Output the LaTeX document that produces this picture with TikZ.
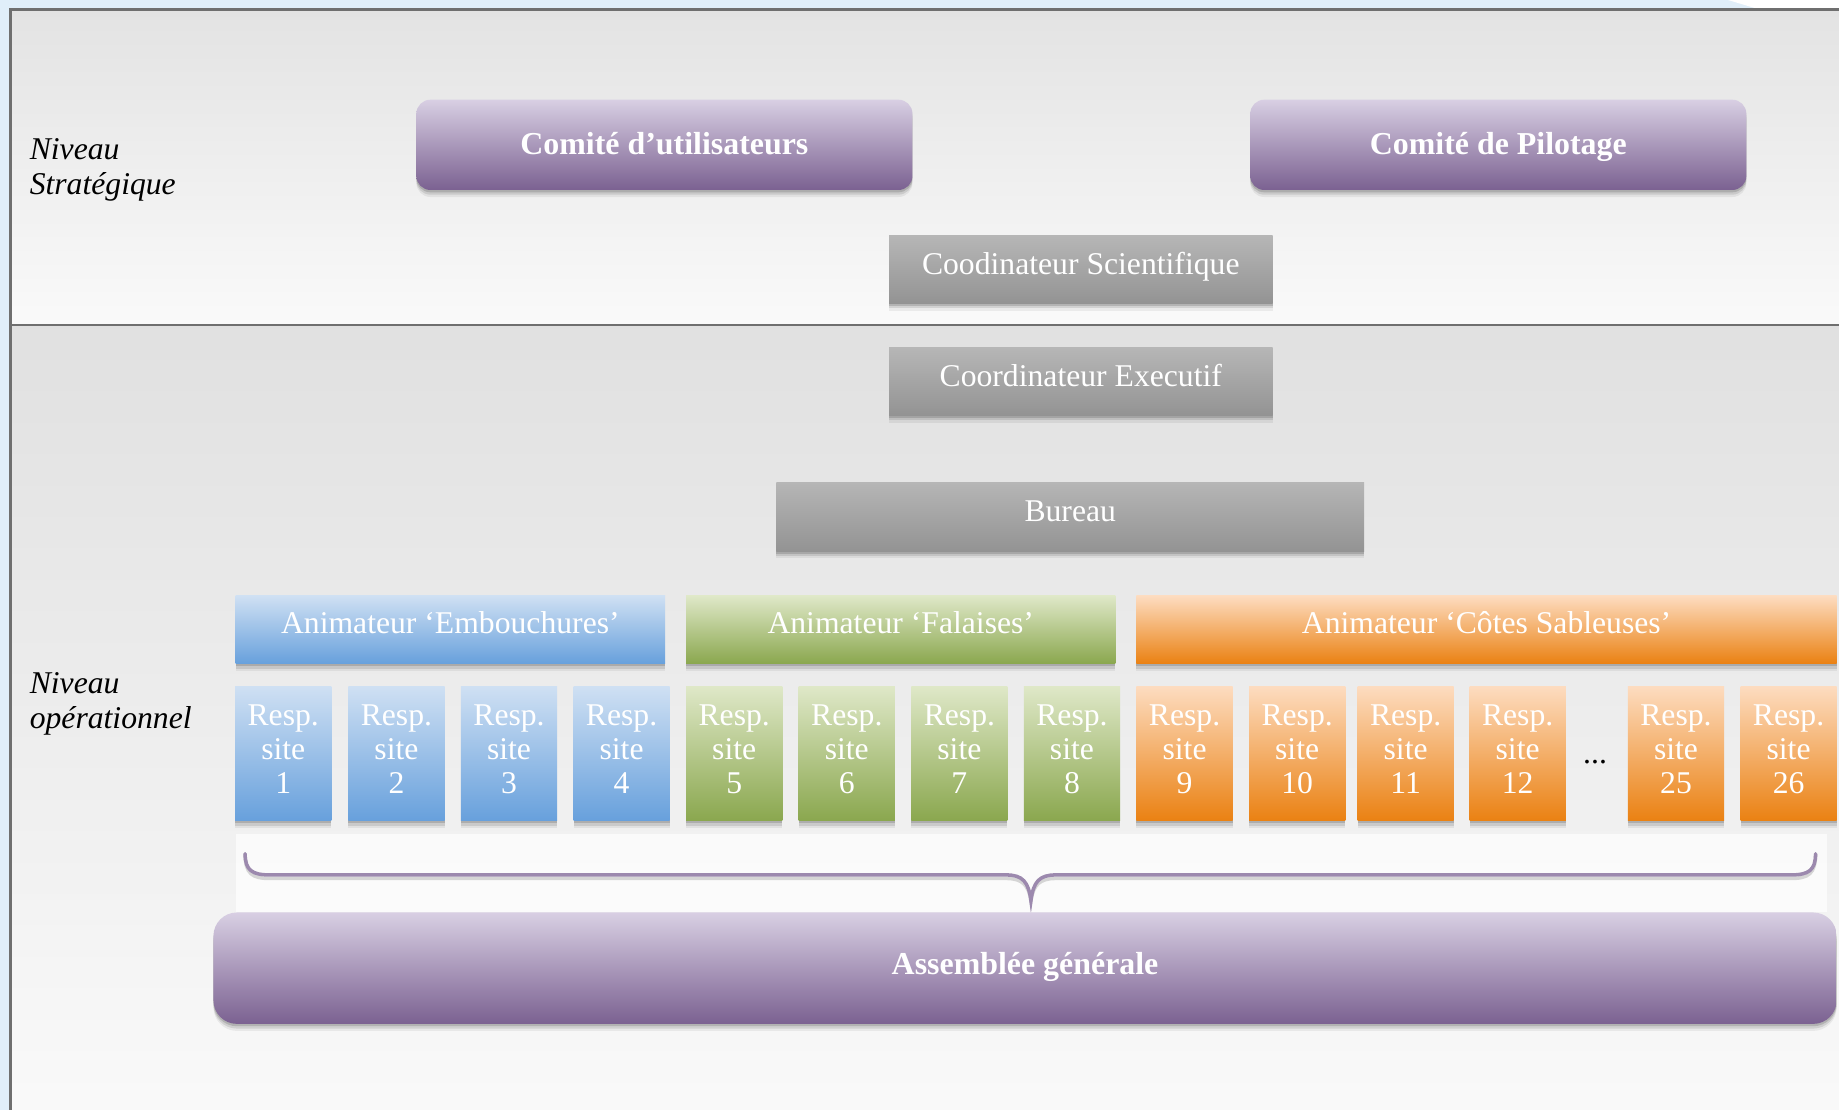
\documentclass[tikz,border=0pt]{standalone}
\usepackage{fontspec}
\setmainfont{Liberation Serif}
\usetikzlibrary{shadows}
\definecolor{bluebg}{HTML}{E0EEF9}
\definecolor{frameline}{HTML}{6F6F6F}
\definecolor{purpTop}{HTML}{D8CFE3}
\definecolor{purpBot}{HTML}{7B6191}
\definecolor{grayTop}{HTML}{B6B6B6}
\definecolor{grayBot}{HTML}{939393}
\definecolor{blueTop}{HTML}{CFE0F3}
\definecolor{blueBot}{HTML}{67A0DC}
\definecolor{greenTop}{HTML}{DFE8C8}
\definecolor{greenBot}{HTML}{8AA74E}
\definecolor{orangeTop}{HTML}{FDDCC0}
\definecolor{orangeBot}{HTML}{EA8112}
\definecolor{braceCol}{HTML}{9C89AE}
\tikzset{
  boxbase/.style={draw=none, inner sep=0pt, text=white, align=center,
    drop shadow={shadow xshift=0pt, shadow yshift=-3pt, opacity=0.06, fill=black},
    drop shadow={shadow xshift=0pt, shadow yshift=-2pt, opacity=0.10, fill=black},
    drop shadow={shadow xshift=0pt, shadow yshift=-1pt, opacity=0.14, fill=black}},
  purplebox/.style={boxbase, top color=purpTop, bottom color=purpBot,
    rounded corners=6pt, text height=9pt, text depth=0.5pt,
    font=\fontsize{13.6}{15}\selectfont\bfseries},
  graybox/.style={boxbase, top color=grayTop, bottom color=grayBot,
    text height=9pt, text depth=5pt, font=\fontsize{13.5}{15}\selectfont},
  animbox/.style={boxbase, minimum height=29pt, text height=9pt, text depth=5.5pt,
    font=\fontsize{13.5}{15}\selectfont},
  respbox/.style={boxbase, minimum width=41pt, minimum height=57.5pt, text depth=4pt,
    font=\fontsize{13.5}{14.5}\selectfont},
  blueb/.style={top color=blueTop, bottom color=blueBot},
  greenb/.style={top color=greenTop, bottom color=greenBot},
  orangeb/.style={top color=orangeTop, bottom color=orangeBot},
  levellabel/.style={anchor=west, align=left, inner sep=0pt,
    font=\fontsize{13.5}{15}\selectfont\itshape}
}
\begin{document}
\begin{tikzpicture}[x=0.5pt,y=-0.5pt]
\useasboundingbox (0,0) rectangle (1568,946);
\begin{scope}
  \clip (0,0) rectangle (1568,946);
  \fill[bluebg] (0,0) rectangle (1568,946);
  \fill[white] (1470,-1) -- (1569,-1) -- (1569,8) -- (1500,8) -- cycle;
  \shade[top color=gray!22, bottom color=gray!4] (9,8) rectangle (1580,277);
  \shade[top color=gray!24, bottom color=gray!4] (9,277) rectangle (1580,960);
  \draw[frameline, line width=1pt] (1580,8) -- (9,8) -- (9,960);
  \draw[frameline, line width=1pt] (9,277) -- (1580,277);
\end{scope}

% level labels
\node[levellabel] (lvlS) at (25,145) {Niveau\\Stratégique};
\node[levellabel] (lvlO) at (25,600) {Niveau\\opérationnel};

% strategic
\node[purplebox, minimum width=211.5pt, minimum height=38.5pt] (cu) at (566.5,123.5) {Comité d’utilisateurs};
\node[purplebox, minimum width=211.5pt, minimum height=38.5pt] (cp) at (1277.5,123.5) {Comité de Pilotage};
\node[graybox, minimum width=163.5pt, minimum height=29pt] (cs) at (921.5,230) {Coodinateur Scientifique};
\node[graybox, minimum width=163.5pt, minimum height=29pt] (ce) at (921.5,325.5) {Coordinateur Executif};
\node[graybox, minimum width=250.5pt, minimum height=29.5pt] (bu) at (912.5,440.5) {Bureau};

% animators
\node[animbox, blueb, minimum width=183pt] (aE) at (384,537) {Animateur ‘Embouchures’};
\node[animbox, greenb, minimum width=183pt] (aF) at (768,537) {Animateur ‘Falaises’};
\node[animbox, orangeb, minimum width=298.5pt] (aC) at (1267.5,537) {Animateur ‘Côtes Sableuses’};

% site managers
\foreach \n/\x/\c in {1/241.5/blueb, 2/338/blueb, 3/434/blueb, 4/530/blueb,
  5/626/greenb, 6/722/greenb, 7/818/greenb, 8/914/greenb,
  9/1010/orangeb, 10/1106/orangeb, 11/1198.5/orangeb, 12/1294/orangeb,
  25/1429/orangeb, 26/1525/orangeb}
  \node[respbox, \c] (r\n) at (\x,642.5) {Resp.\\site\\\n};
\node[inner sep=0pt, font=\fontsize{13.5}{15}\selectfont] (dots) at (1360,650) {...};

% brace area
\fill[white, opacity=0.7] (201,711) rectangle (1558,778);
\coordinate (bl) at (209,728);
\coordinate (br) at (1548,728);
\coordinate (bt) at (879,768);
\foreach \dy/\col/\op in {3/black/0.15, 0/braceCol/1}
  \draw[\col, opacity=\op, line width=1.5pt, line cap=round, yshift=-\dy*0.5pt]
    (bl) .. controls (209,742) and (215,746) .. (230,746)
    -- (858,746) .. controls (872,746) and (877,752) .. (bt)
    .. controls (881,752) and (886,746) .. (900,746)
    -- (1527,746) .. controls (1542,746) and (1548,742) .. (br);

% general assembly
\node[purplebox, rounded corners=10pt, text depth=3.5pt, minimum width=692pt, minimum height=47.5pt] (ag) at (874,825.5) {Assemblée générale};
\end{tikzpicture}
\end{document}
